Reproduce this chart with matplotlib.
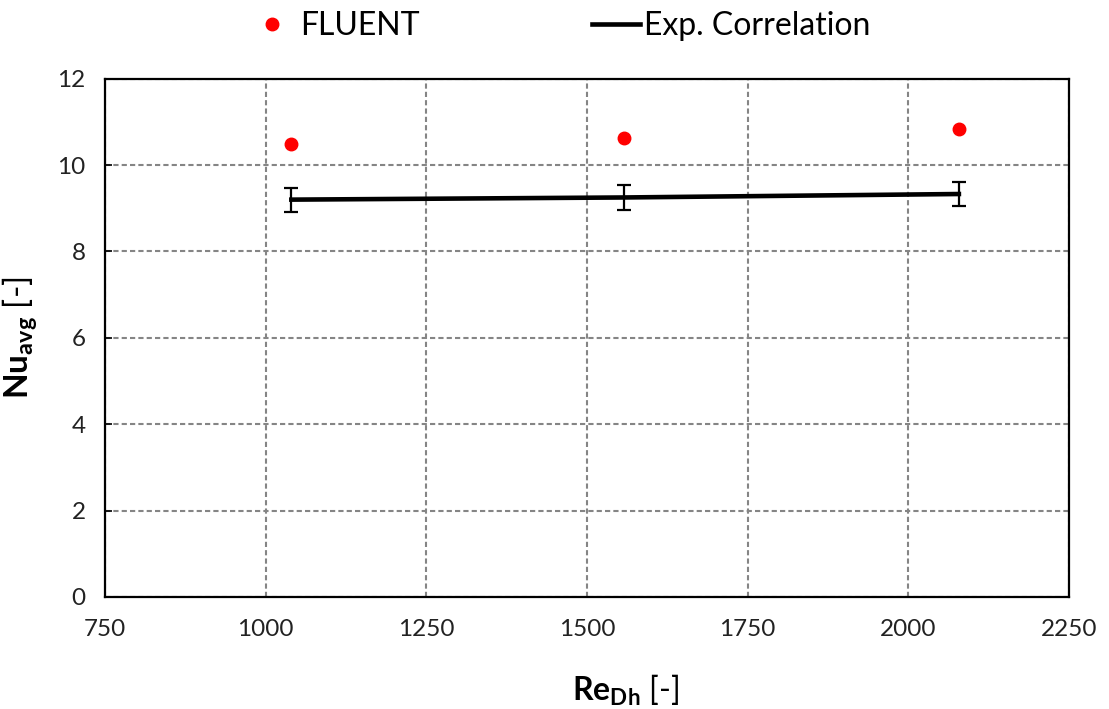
import numpy as np
import matplotlib
matplotlib.use('Agg')
import matplotlib.pyplot as plt
from matplotlib.lines import Line2D

plt.rcParams['font.family'] = ['Lato', 'DejaVu Sans']
plt.rcParams['mathtext.fontset'] = 'custom'
plt.rcParams['mathtext.rm'] = 'Lato'
plt.rcParams['mathtext.bf'] = 'Lato:bold'

## data
re_fluent = [1040, 1557, 2079]
nu_fluent = [10.48, 10.62, 10.83]

re_corr = [1040, 1557, 2079]
nu_corr = [9.20, 9.25, 9.33]
nu_corr_err = [0.28, 0.28, 0.28]

fig = plt.figure(figsize=(11.09, 7.09), dpi=100)
ax = fig.add_axes([0.0947, 0.158, 0.869, 0.731])

ax.plot(re_fluent, nu_fluent, ls='none', marker='o', ms=9, color='#ff0000', zorder=4)
ax.errorbar(re_corr, nu_corr, yerr=nu_corr_err, color='black', lw=3.3,
            elinewidth=1.6, capsize=5, capthick=1.6, zorder=3)

ax.set_xlim(750, 2250)
ax.set_ylim(0, 12)
ax.set_xticks(np.arange(750, 2251, 250))
ax.set_yticks(np.arange(0, 13, 2))
ax.grid(True, color='#858585', lw=1.5, ls=(0, (2.5, 1.5)))
ax.set_axisbelow(True)
for s in ax.spines.values():
    s.set_linewidth(1.6)
    s.set_color('black')
ax.tick_params(axis='y', direction='in', length=5, width=1.2, labelsize=17.5, pad=14)
ax.tick_params(axis='x', length=0, labelsize=17.5, pad=16)
for lab in ax.get_xticklabels() + ax.get_yticklabels():
    lab.set_color('#222222')

ax.set_xlabel(r'$\mathbf{Re}_{\mathbf{Dh}}$ [-]', fontsize=23)
ax.set_ylabel(r'$\mathbf{Nu}_{\mathbf{avg}}$ [-]', fontsize=24)
ax.xaxis.set_label_coords(0.54, -0.146)
ax.yaxis.set_label_coords(-0.066, 0.5)

# legend: plain line for the correlation, no error bar glyph
handles = [Line2D([], [], ls='none', marker='o', ms=9, color='#ff0000'),
           Line2D([], [], color='black', lw=3.3)]
labels = ['FLUENT', 'Exp. Correlation']
fig.legend(handles, labels, loc='center', bbox_to_anchor=(0.504, 0.963), ncol=2,
           frameon=False, fontsize=23, handlelength=1.5, handletextpad=0.12,
           columnspacing=5.4)

fig.savefig('out.png', dpi=100)
